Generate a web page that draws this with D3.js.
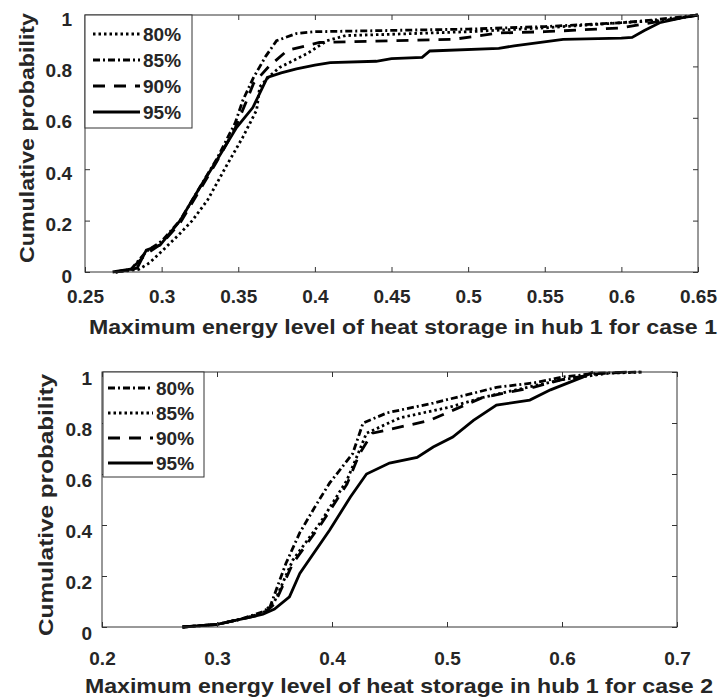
<!DOCTYPE html>
<html>
<head>
<meta charset="utf-8">
<script src="https://cdn.jsdelivr.net/npm/d3@7/dist/d3.min.js"></script>
<style>
  body { margin: 0; background: #fff; }
  svg text { font-family: "Liberation Sans", Arial, sans-serif; font-weight: bold; fill: #262626; }
</style>
</head>
<body>
<svg id="chart"></svg>
<script>
let w = 721;
let h = 700;

let levels = ["80%", "85%", "90%", "95%"];
let yTicks = [0, 0.2, 0.4, 0.6, 0.8, 1];
let case1XTicks = [0.25, 0.3, 0.35, 0.4, 0.45, 0.5, 0.55, 0.6, 0.65];
let case2XTicks = [0.2, 0.3, 0.4, 0.5, 0.6, 0.7];

// case 1 curves
let case1X80 = [0.27, 0.285, 0.292, 0.30, 0.312, 0.32, 0.33, 0.342, 0.353, 0.362, 0.364, 0.37, 0.377, 0.385, 0.395, 0.408, 0.42, 0.45, 0.5, 0.55, 0.6, 0.63, 0.65];
let case1Y80 = [0, 0.01, 0.035, 0.08, 0.15, 0.2, 0.28, 0.41, 0.525, 0.63, 0.72, 0.76, 0.796, 0.82, 0.85, 0.9, 0.92, 0.925, 0.935, 0.95, 0.97, 0.98, 1];
let case1X85 = [0.27, 0.28, 0.29, 0.30, 0.312, 0.325, 0.336, 0.348, 0.353, 0.36, 0.368, 0.375, 0.388, 0.40, 0.45, 0.5, 0.55, 0.6, 0.62, 0.65];
let case1Y85 = [0, 0.01, 0.08, 0.12, 0.2, 0.33, 0.44, 0.58, 0.668, 0.757, 0.84, 0.9, 0.928, 0.935, 0.94, 0.945, 0.955, 0.97, 0.98, 1];
let case1X90 = [0.27, 0.28, 0.29, 0.30, 0.312, 0.325, 0.336, 0.348, 0.355, 0.36, 0.37, 0.382, 0.403, 0.45, 0.49, 0.52, 0.55, 0.6, 0.62, 0.65];
let case1Y90 = [0, 0.01, 0.07, 0.11, 0.19, 0.32, 0.43, 0.56, 0.66, 0.734, 0.8, 0.862, 0.893, 0.9, 0.905, 0.93, 0.935, 0.95, 0.97, 1];
let case1X95 = [0.268, 0.284, 0.29, 0.299, 0.312, 0.325, 0.336, 0.349, 0.3595, 0.364, 0.369, 0.378, 0.388, 0.40, 0.41, 0.44, 0.45, 0.47, 0.475, 0.52, 0.53, 0.562, 0.6, 0.607, 0.615, 0.625, 0.64, 0.65];
let case1Y95 = [0, 0.015, 0.085, 0.105, 0.2, 0.33, 0.435, 0.563, 0.64, 0.695, 0.757, 0.775, 0.79, 0.805, 0.815, 0.82, 0.83, 0.835, 0.86, 0.87, 0.88, 0.905, 0.91, 0.913, 0.94, 0.97, 0.99, 1];

// case 2 curves
let case2X80 = [0.27, 0.30, 0.32, 0.34, 0.346, 0.36, 0.372, 0.385, 0.398, 0.418, 0.427, 0.448, 0.488, 0.523, 0.543, 0.575, 0.6, 0.63, 0.67];
let case2Y80 = [0, 0.01, 0.03, 0.06, 0.078, 0.25, 0.37, 0.47, 0.565, 0.68, 0.8, 0.84, 0.878, 0.917, 0.94, 0.957, 0.98, 0.995, 1];
let case2X85 = [0.27, 0.30, 0.32, 0.34, 0.35, 0.366, 0.39, 0.413, 0.424, 0.43, 0.459, 0.503, 0.531, 0.56, 0.6, 0.64, 0.67];
let case2Y85 = [0, 0.01, 0.03, 0.055, 0.1, 0.263, 0.41, 0.576, 0.694, 0.76, 0.82, 0.863, 0.9, 0.93, 0.97, 0.995, 1];
let case2X90 = [0.27, 0.30, 0.32, 0.34, 0.35, 0.366, 0.39, 0.413, 0.424, 0.435, 0.465, 0.485, 0.5, 0.531, 0.575, 0.6, 0.633, 0.66];
let case2Y90 = [0, 0.01, 0.03, 0.05, 0.09, 0.25, 0.4, 0.56, 0.68, 0.76, 0.79, 0.81, 0.84, 0.9, 0.94, 0.97, 0.995, 1];
let case2X95 = [0.27, 0.30, 0.32, 0.34, 0.35, 0.363, 0.372, 0.398, 0.416, 0.43, 0.45, 0.474, 0.488, 0.505, 0.523, 0.543, 0.572, 0.59, 0.618, 0.627];
let case2Y95 = [0, 0.01, 0.03, 0.05, 0.07, 0.118, 0.21, 0.38, 0.51, 0.6, 0.643, 0.665, 0.706, 0.745, 0.81, 0.87, 0.89, 0.93, 0.98, 1];

// line styles
let dotted = "2.5,3";
let dashDot = "7,3,2,3";
let dashed = "12,9";
let solid = null;

let svg = d3.select("#chart").attr("width", w).attr("height", h);

function drawChart(cfg) {
    let xScale = d3.scaleLinear().domain(cfg.xDomain).range([cfg.left, cfg.right]);
    let yScale = d3.scaleLinear().domain([0, 1]).range([cfg.bottom, cfg.top]);
    let g = svg.append("g");

    // curves
    let line = d3.line()
        .x(d => xScale(d[0]))
        .y(d => yScale(d[1]));

    cfg.series.forEach(s => {
        let pts = s.x.map((v, i) => [v, s.y[i]]);
        g.append("path")
            .datum(pts)
            .attr("fill", "none")
            .attr("stroke", "#000")
            .attr("stroke-width", 2.8)
            .attr("stroke-dasharray", s.dash)
            .attr("d", line);
    });

    // axes, ticks pointing inside
    g.append("g")
        .attr("transform", `translate(0, ${cfg.bottom})`)
        .call(d3.axisBottom(xScale).tickValues(cfg.xTicks).tickSizeInner(-5).tickSizeOuter(0)
            .tickPadding(cfg.xPad).tickFormat(d3.format("")))
        .call(a => a.select(".domain").remove())
        .call(a => a.selectAll("text").style("font-size", "19px"));
    g.append("g")
        .attr("transform", `translate(0, ${cfg.top})`)
        .call(d3.axisTop(xScale).tickValues(cfg.xTicks).tickSizeInner(-5).tickSizeOuter(0).tickFormat(""))
        .call(a => a.select(".domain").remove());
    g.append("g")
        .attr("transform", `translate(${cfg.left}, 0)`)
        .call(d3.axisLeft(yScale).tickValues(yTicks).tickSizeInner(-5).tickSizeOuter(0)
            .tickPadding(cfg.yPad).tickFormat(d3.format("")))
        .call(a => a.select(".domain").remove())
        .call(a => a.selectAll("text").style("font-size", "19px").attr("transform", `translate(0, ${cfg.yShift})`));
    g.append("g")
        .attr("transform", `translate(${cfg.right}, 0)`)
        .call(d3.axisRight(yScale).tickValues(yTicks).tickSizeInner(-5).tickSizeOuter(0).tickFormat(""))
        .call(a => a.select(".domain").remove());
    g.selectAll(".tick line").attr("stroke", "#333");
    g.selectAll(".tick text").attr("fill", "#262626");

    g.append("rect")
        .attr("x", cfg.left).attr("y", cfg.top)
        .attr("width", cfg.right - cfg.left).attr("height", cfg.bottom - cfg.top)
        .attr("fill", "none").attr("stroke", "#333").attr("stroke-width", 1);

    // legend
    let lg = g.append("g").attr("transform", `translate(${cfg.left + cfg.legend.dx}, ${cfg.top})`);
    lg.append("rect")
        .attr("width", cfg.legend.w).attr("height", cfg.legend.h)
        .attr("fill", "#fff").attr("stroke", "#333");
    cfg.series.forEach((s, i) => {
        let yy = cfg.legend.y0 + i * cfg.legend.step;
        lg.append("line")
            .attr("x1", cfg.legend.x1).attr("x2", cfg.legend.x2)
            .attr("y1", yy).attr("y2", yy)
            .attr("stroke", "#000").attr("stroke-width", 2.8)
            .attr("stroke-dasharray", s.dash);
        lg.append("text")
            .attr("x", cfg.legend.x2 + 3).attr("y", yy)
            .attr("dy", "0.36em")
            .style("font-size", "19px")
            .text(s.name);
    });

    // axis titles
    svg.append("text")
        .attr("x", cfg.titleX).attr("y", cfg.titleY)
        .attr("text-anchor", "middle")
        .attr("textLength", 628).attr("lengthAdjust", "spacingAndGlyphs")
        .style("font-size", "21px")
        .text(cfg.title);
    svg.append("text")
        .attr("transform", `translate(${cfg.yLabelX}, ${cfg.yLabelY}) rotate(-90)`)
        .attr("text-anchor", "middle")
        .attr("dy", "0.35em")
        .attr("textLength", cfg.yLabelLen).attr("lengthAdjust", "spacingAndGlyphs")
        .style("font-size", "20px")
        .text("Cumulative probability");
}

drawChart({
    xDomain: [0.25, 0.65], xTicks: case1XTicks,
    left: 85, right: 698, top: 15, bottom: 272,
    xPad: 18, yPad: 13, yShift: 4,
    title: "Maximum energy level of heat storage in hub 1 for case 1",
    titleX: 403, titleY: 334,
    yLabelX: 27, yLabelY: 138, yLabelLen: 250,
    legend: { dx: 0, w: 107, h: 113, y0: 19, step: 26, x1: 8, x2: 55 },
    series: [
        { name: levels[0], x: case1X80, y: case1Y80, dash: dotted },
        { name: levels[1], x: case1X85, y: case1Y85, dash: dashDot },
        { name: levels[2], x: case1X90, y: case1Y90, dash: dashed },
        { name: levels[3], x: case1X95, y: case1Y95, dash: solid }
    ]
});

drawChart({
    xDomain: [0.2, 0.7], xTicks: case2XTicks,
    left: 102, right: 677, top: 372, bottom: 627,
    xPad: 25, yPad: 10, yShift: 6,
    title: "Maximum energy level of heat storage in hub 1 for case 2",
    titleX: 399, titleY: 693,
    yLabelX: 46, yLabelY: 505, yLabelLen: 262,
    legend: { dx: 1, w: 101, h: 105, y0: 16, step: 25, x1: 5, x2: 50 },
    series: [
        { name: levels[0], x: case2X80, y: case2Y80, dash: dashDot },
        { name: levels[1], x: case2X85, y: case2Y85, dash: dotted },
        { name: levels[2], x: case2X90, y: case2Y90, dash: dashed },
        { name: levels[3], x: case2X95, y: case2Y95, dash: solid }
    ]
});
</script>
</body>
</html>
